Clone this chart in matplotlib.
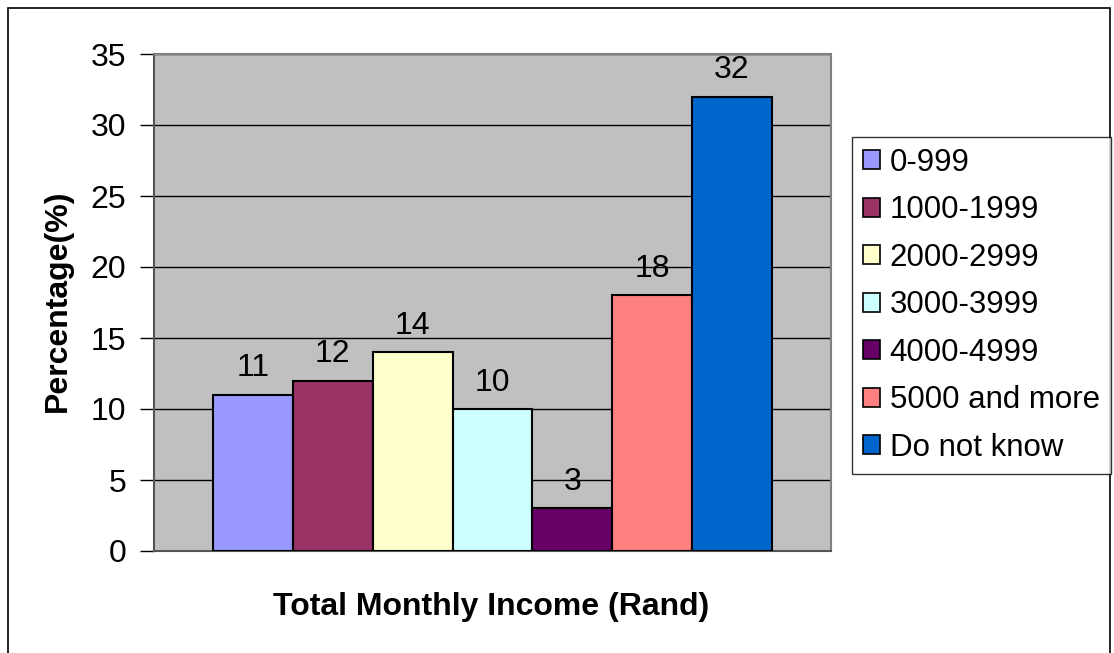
import matplotlib
matplotlib.use("Agg")
import matplotlib.pyplot as plt
from matplotlib.patches import Rectangle

categories = ["0-999", "1000-1999", "2000-2999", "3000-3999", "4000-4999", "5000 and more", "Do not know"]
values = [11, 12, 14, 10, 3, 18, 32]
colors = ["#9999FF", "#993366", "#FFFFCC", "#CCFFFF", "#660066", "#FF8080", "#0066CC"]
yticks = [0, 5, 10, 15, 20, 25, 30, 35]

plt.rcParams['font.family'] = ['Liberation Sans', 'DejaVu Sans']

W, H = 1114, 653
fig = plt.figure(figsize=(W / 100, H / 100), dpi=100)
fig.patch.set_facecolor("white")

# outer border
fig.patches.append(Rectangle((8 / W, -0.01), (1110 - 8) / W, (H - 8) / H + 0.01,
                             transform=fig.transFigure, fill=False,
                             edgecolor="black", linewidth=1.2))

l, r, t, b = 154, 831, 54, 551
ax = fig.add_axes([l / W, 1 - b / H, (r - l) / W, (b - t) / H])
ax.set_facecolor("#C0C0C0")

x = list(range(len(values)))
ax.bar(x, values, width=1.0, color=colors, edgecolor="black", linewidth=1.5, zorder=3)
for xi, v in zip(x, values):
    ax.text(xi, v + 0.8, str(v), ha="center", va="bottom", fontsize=23, zorder=4)

ax.set_xlim(-1.242, 7.242)
ax.set_ylim(0, 35)
ax.set_yticks(yticks)
ax.set_yticklabels([str(v) for v in yticks], fontsize=23)
ax.yaxis.grid(True, color="black", linewidth=1.0, zorder=1)
ax.set_axisbelow(True)
ax.set_xticks([])
ax.tick_params(axis="y", direction="out", length=10, width=1, pad=10)
for s in ["top", "right"]:
    ax.spines[s].set_color("#808080")
    ax.spines[s].set_linewidth(1.5)
ax.spines["left"].set_color("#555555")
ax.spines["left"].set_linewidth(1.5)
ax.spines["bottom"].set_color("#555555")
ax.spines["bottom"].set_linewidth(1.5)

ax.set_ylabel("Percentage(%)", fontsize=23, fontweight="bold")
ax.yaxis.set_label_coords((73 - l) / (r - l), (b - 301) / (b - t))
fig.text(491 / W, 1 - 607 / H, "Total Monthly Income (Rand)", ha="center", va="center",
         fontsize=23, fontweight="bold")

handles = [Rectangle((0, 0), 1, 1, facecolor=c, edgecolor="black", linewidth=1.2) for c in colors]
leg = fig.legend(handles, categories, loc="upper left",
                 bbox_to_anchor=(852 / W, 1 - 137 / H), bbox_transform=fig.transFigure,
                 fontsize=22.5, frameon=True, fancybox=False, edgecolor="black",
                 handlelength=0.55, handleheight=0.55, handletextpad=0.3,
                 labelspacing=0.56, borderpad=0.35, borderaxespad=0)
leg.get_frame().set_linewidth(1.0)

fig.savefig("out.png", dpi=100)
